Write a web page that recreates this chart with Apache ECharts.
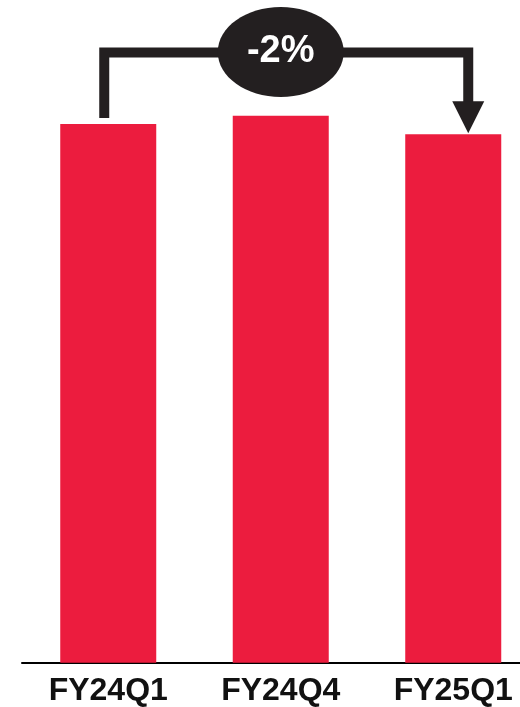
<!DOCTYPE html>
<html>
<head>
<meta charset="utf-8">
<script src="https://cdn.jsdelivr.net/npm/echarts@6/dist/echarts.min.js"></script>
<style>html,body{margin:0;padding:0;background:#fff;}#c{width:520px;height:707px;}</style>
</head>
<body>
<div id="c"></div>
<script>
const categories = ['FY24Q1', 'FY24Q4', 'FY25Q1'];
const values = [100, 101.5, 98.1];
const changeLabel = '-2%';

const RED = '#EC1C3E';
const DARK = '#231F20';

const chart = echarts.init(document.getElementById('c'), null, {renderer: 'canvas'});
chart.setOption({
  animation: false,
  grid: {left: 22, right: 0, top: 0, bottom: 44.3},
  xAxis: {
    type: 'value',
    min: -0.5, max: 2.387, interval: 0.5,
    splitLine: {show: false},
    axisLine: {show: true, onZero: false, lineStyle: {color: '#000', width: 2}},
    axisTick: {show: false},
    axisLabel: {
      color: '#111', fontSize: 32, fontWeight: 'bold',
      fontFamily: 'Liberation Sans', margin: 12, lineHeight: 32,
      showMinLabel: false, showMaxLabel: false, hideOverlap: false,
      formatter: v => (Math.abs(v - Math.round(v)) < 1e-6 && categories[Math.round(v)]) || ''
    }
  },
  yAxis: {type: 'value', min: 0, max: 123, show: false, splitLine: {show: false}},
  series: [{
    type: 'bar', data: values.map((v, i) => [i, v]), barWidth: 96,
    itemStyle: {color: RED}
  }]
});

function drawConnector() {
  const p0 = chart.convertToPixel({gridIndex: 0}, [0, values[0]]);
  const p1 = chart.convertToPixel({gridIndex: 0}, [1, values[1]]);
  const p2 = chart.convertToPixel({gridIndex: 0}, [2, values[2]]);
  const lineY = 52.5;
  const xL = p0[0] - 4;
  const xR = p2[0] + 15;
  const arrowTip = p2[1] - 1;
  const arrowBase = arrowTip - 32;
  chart.setOption({
    graphic: [
      {type: 'polyline', z: 10,
       shape: {points: [[xL, p0[1] - 6], [xL, lineY], [xR, lineY], [xR, arrowBase + 1]]},
       style: {stroke: DARK, lineWidth: 10, fill: null, lineJoin: 'miter', lineCap: 'butt'}},
      {type: 'polygon', z: 10,
       shape: {points: [[xR - 16, arrowBase], [xR + 16, arrowBase], [xR, arrowTip]]},
       style: {fill: DARK}},
      {type: 'ellipse', z: 11,
       shape: {cx: p1[0], cy: 52, rx: 63, ry: 45},
       style: {fill: DARK}},
      {type: 'text', z: 12, x: p1[0], y: 52,
       style: {text: changeLabel, fill: '#fff', font: 'bold 38px "Liberation Sans"',
               textAlign: 'center', textVerticalAlign: 'middle'}}
    ]
  });
}
drawConnector();
</script>
</body>
</html>
